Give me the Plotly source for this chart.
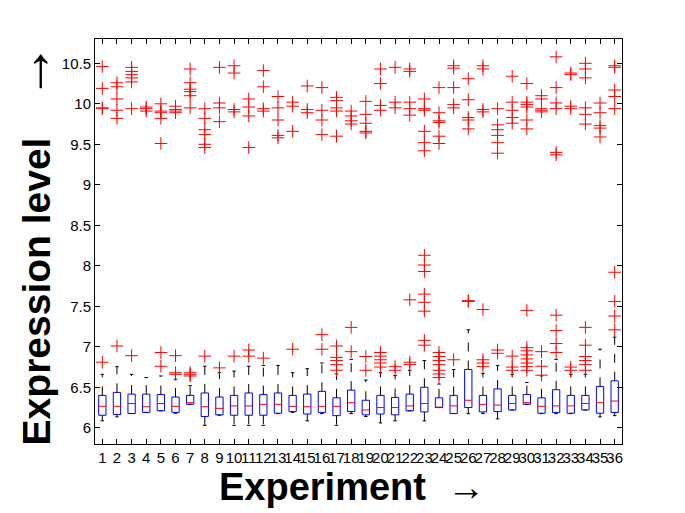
import plotly.graph_objects as go

experiments = list(range(1, 37))
tick_labels = [str(i) for i in experiments]
y_ticks = [6, 6.5, 7, 7.5, 8, 8.5, 9, 9.5, 10, 10.5]
y_tick_labels = ["6", "6.5", "7", "7.5", "8", "8.5", "9", "9.5", "10", "10.5"]

q1 = [6.155, 6.163, 6.176, 6.19, 6.21, 6.19, 6.29, 6.14, 6.16, 6.155, 6.155, 6.155,
      6.18, 6.20, 6.17, 6.19, 6.15, 6.20, 6.16, 6.17, 6.16, 6.21, 6.196, 6.25,
      6.176, 6.25, 6.196, 6.20, 6.22, 6.29, 6.18, 6.19, 6.18, 6.22, 6.18, 6.19]
median = [6.265, 6.265, 6.30, 6.26, 6.30, 6.265, 6.31, 6.26, 6.24, 6.27, 6.27, 6.29,
          6.29, 6.265, 6.26, 6.265, 6.265, 6.31, 6.22, 6.25, 6.25, 6.27, 6.30, 6.255,
          6.27, 6.34, 6.29, 6.28, 6.30, 6.31, 6.265, 6.27, 6.27, 6.30, 6.31, 6.33]
q3 = [6.40, 6.437, 6.416, 6.416, 6.41, 6.38, 6.40, 6.43, 6.38, 6.40, 6.43, 6.41,
      6.43, 6.40, 6.416, 6.45, 6.37, 6.465, 6.34, 6.40, 6.375, 6.416, 6.50, 6.37,
      6.40, 6.72, 6.40, 6.48, 6.40, 6.41, 6.37, 6.47, 6.40, 6.40, 6.51, 6.58]
whisker_low = [6.086, 6.135, 6.176, 6.19, 6.21, 6.18, 6.29, 6.03, 6.155, 6.03, 6.03, 6.03,
               6.175, 6.19, 6.086, 6.175, 6.03, 6.175, 6.14, 6.06, 6.086, 6.21, 6.086, 6.25,
               6.176, 6.175, 6.175, 6.11, 6.22, 6.29, 6.175, 6.175, 6.175, 6.22, 6.135, 6.15]
whisker_high = [6.66, 6.755, 6.66, 6.62, 6.64, 6.60, 6.52, 6.76, 6.68, 6.70, 6.76, 6.77,
                6.77, 6.68, 6.73, 6.80, 6.665, 6.845, 6.59, 6.68, 6.645, 6.71, 6.83, 6.54,
                6.72, 7.21, 6.67, 6.77, 6.66, 6.56, 6.64, 6.845, 6.66, 6.66, 6.97, 7.12]

outliers = [
    [6.81, 10.46, 10.19, 9.95, 9.94],
    [7.01, 10.26, 10.21, 10.06, 9.92, 9.82],
    [6.89, 10.45, 10.40, 10.36, 10.32, 10.27, 9.94],
    [9.96, 9.94, 9.91],
    [6.76, 6.93, 10.0, 9.91, 9.89, 9.82, 9.51],
    [6.68, 6.66, 6.89, 9.97, 9.93, 9.91, 9.89],
    [6.68, 6.64, 6.66, 10.43, 10.26, 10.18, 10.15, 10.10, 9.95],
    [6.885, 9.94, 9.82, 9.68, 9.62, 9.50, 9.46],
    [6.74, 10.45, 10.01, 9.95, 9.78],
    [6.885, 10.47, 10.38, 9.93, 9.90],
    [6.96, 6.885, 10.06, 9.96, 9.85, 9.46],
    [6.86, 10.41, 10.21, 9.94, 9.91],
    [10.09, 9.95, 9.80, 9.61, 9.58],
    [6.97, 10.02, 9.97, 9.66],
    [10.22, 9.93, 9.89],
    [6.97, 7.15, 10.20, 9.92, 9.80, 9.62],
    [6.71, 6.78, 6.83, 6.87, 7.01, 10.08, 10.04, 9.95, 9.91, 9.60],
    [6.94, 7.24, 9.91, 9.85, 9.79, 9.75],
    [6.71, 6.88, 10.03, 9.87, 9.76, 9.66, 9.64],
    [6.93, 6.885, 6.84, 6.80, 6.75, 10.43, 10.25, 9.98, 9.92],
    [6.755, 6.71, 10.45, 10.02, 9.95],
    [6.81, 6.78, 7.58, 10.43, 10.40, 10.02, 9.94, 9.86],
    [7.08, 7.02, 7.65, 7.55, 7.44, 8.13, 8.01, 7.93, 10.06, 9.94, 9.92, 9.66, 9.52, 9.42],
    [6.93, 6.88, 6.83, 6.78, 6.71, 6.665, 6.62, 10.20, 9.89, 9.79, 9.77, 9.60, 9.51],
    [6.84, 10.47, 10.44, 10.20, 9.99, 9.95],
    [7.57, 7.56, 10.31, 10.05, 9.83, 9.80, 9.69],
    [6.84, 6.80, 6.755, 7.46, 10.47, 10.43, 9.93, 9.90],
    [6.96, 6.92, 9.94, 9.74, 9.68, 9.61, 9.52, 9.39],
    [6.885, 6.75, 6.71, 10.34, 10.02, 9.92, 9.83, 9.76],
    [7.45, 6.99, 6.95, 6.90, 6.85, 6.80, 6.755, 6.71, 10.25, 10.02, 9.99, 9.96, 9.80, 9.69],
    [6.94, 6.76, 6.65, 10.10, 10.06, 9.94, 9.92, 9.90],
    [7.39, 7.20, 7.04, 6.93, 10.58, 10.20, 10.01, 9.94, 9.40, 9.37],
    [6.75, 6.71, 10.38, 10.36, 9.97, 9.94],
    [7.24, 7.02, 6.88, 6.83, 6.78, 6.71, 10.50, 10.43, 10.32, 9.95, 9.87, 9.75],
    [10.01, 9.89, 9.73, 9.70, 9.59],
    [7.21, 7.38, 7.56, 7.92, 10.47, 10.45, 10.17, 10.09, 9.94],
]

half_box = 0.25
half_cap = 0.12

bx, by, mx, my, wx, wy, cx, cy, ox, oy = [], [], [], [], [], [], [], [], [], []
for i, e in enumerate(experiments):
    bx += [e - half_box, e + half_box, e + half_box, e - half_box, e - half_box, None]
    by += [q1[i], q1[i], q3[i], q3[i], q1[i], None]
    mx += [e - half_box, e + half_box, None]
    my += [median[i], median[i], None]
    wx += [e, e, None, e, e, None]
    wy += [q3[i], whisker_high[i], None, q1[i], whisker_low[i], None]
    cx += [e - half_cap, e + half_cap, None, e - half_cap, e + half_cap, None]
    cy += [whisker_high[i], whisker_high[i], None, whisker_low[i], whisker_low[i], None]
    for v in outliers[i]:
        ox.append(e)
        oy.append(v)

fig = go.Figure()
fig.add_trace(go.Scatter(x=wx, y=wy, mode="lines", line=dict(color="black", width=1, dash="dash"),
                         hoverinfo="skip"))
fig.add_trace(go.Scatter(x=cx, y=cy, mode="lines", line=dict(color="black", width=1), hoverinfo="skip"))
fig.add_trace(go.Scatter(x=bx, y=by, mode="lines", line=dict(color="blue", width=1), hoverinfo="skip"))
fig.add_trace(go.Scatter(x=mx, y=my, mode="lines", line=dict(color="red", width=1), hoverinfo="skip"))
fig.add_trace(go.Scatter(x=ox, y=oy, mode="markers",
                         marker=dict(symbol="cross-thin", size=9, line=dict(color="red", width=1))))

font_family = "Liberation Sans, Arial, sans-serif"
# page body has an 8px default margin, so the figure is sized to fit the window
fig.update_layout(
    width=677, height=505,
    margin=dict(l=87, r=63, t=31, b=69),
    paper_bgcolor="white", plot_bgcolor="white",
    showlegend=False,
    font=dict(family=font_family, color="black", size=15),
    xaxis=dict(range=[0.5, 36.5], tickmode="array", tickvals=experiments, ticktext=tick_labels,
               tickangle=0, ticks="inside", ticklen=5, tickcolor="black", showline=True,
               linecolor="black", linewidth=1, mirror="ticks", showgrid=False, zeroline=False,
               tickfont=dict(size=15)),
    yaxis=dict(range=[5.8, 10.8], tickmode="array", tickvals=y_ticks, ticktext=y_tick_labels,
               ticks="inside", ticklen=5, tickcolor="black", showline=True,
               linecolor="black", linewidth=1, mirror="ticks", showgrid=False, zeroline=False,
               tickfont=dict(size=15)),
    annotations=[
        dict(text="<b>Experiment</b>  \u2192", xref="paper", yref="paper", x=0.487, y=-0.106,
             xanchor="center", yanchor="middle", showarrow=False, font=dict(size=38)),
        dict(text="<b>Expression level</b>  <span style='font-size:57px'> \u2192</span>",
             xref="paper", yref="paper", x=-0.124, y=0.492,
             xanchor="center", yanchor="middle", textangle=-90, showarrow=False, font=dict(size=39)),
    ],
)

fig.write_html("out.html")
